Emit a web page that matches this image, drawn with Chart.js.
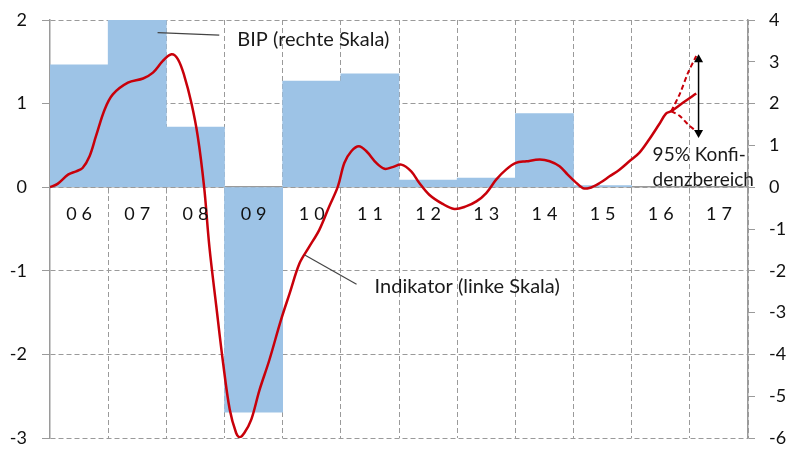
<!DOCTYPE html>
<html><head><meta charset="utf-8">
<style>html,body{margin:0;padding:0;background:#fff}#wrap{width:790px;height:449px;position:relative}canvas{display:block}</style>
<script src="https://cdn.jsdelivr.net/npm/chart.js@4/dist/chart.umd.min.js"></script>
</head><body><div id="wrap"><canvas id="c" width="790" height="449"></canvas></div>
<script>
// ---- data ----
const yearLabels = ['06','07','08','09','10','11','12','13','14','15','16','17'];
const firstYear = 2006;
const gdpYears = [2006,2007,2008,2009,2010,2011,2012,2013,2014,2015];
const gdpGrowth = [2.93,4.0,1.44,-5.38,2.54,2.71,0.17,0.22,1.76,0.04];
const indicatorX = [2006.00,2006.13,2006.31,2006.45,2006.56,2006.68,2006.79,2006.94,2007.08,2007.34,2007.60,2007.77,2007.94,2008.09,2008.20,2008.31,2008.43,2008.54,2008.65,2008.74,2008.86,2008.97,2009.09,2009.20,2009.26,2009.34,2009.46,2009.60,2009.77,2009.97,2010.12,2010.29,2010.45,2010.63,2010.80,2010.95,2011.06,2011.18,2011.31,2011.44,2011.61,2011.75,2011.89,2012.04,2012.21,2012.35,2012.52,2012.75,2012.95,2013.15,2013.33,2013.50,2013.67,2013.84,2014.01,2014.19,2014.42,2014.59,2014.76,2014.90,2015.02,2015.16,2015.27,2015.45,2015.62,2015.79,2015.96,2016.13,2016.30,2016.47,2016.59,2016.68,2016.88,2017.11];
const indicatorY = [0.00,0.04,0.15,0.19,0.23,0.37,0.61,0.93,1.11,1.25,1.30,1.37,1.51,1.59,1.53,1.33,1.01,0.61,0.00,-0.71,-1.43,-2.07,-2.66,-2.94,-2.99,-2.94,-2.78,-2.43,-2.07,-1.59,-1.27,-0.91,-0.72,-0.51,-0.23,0.01,0.29,0.43,0.49,0.43,0.29,0.22,0.24,0.27,0.19,0.05,-0.09,-0.20,-0.26,-0.23,-0.17,-0.07,0.09,0.21,0.29,0.31,0.33,0.31,0.25,0.15,0.07,-0.01,-0.01,0.05,0.13,0.21,0.31,0.41,0.57,0.75,0.88,0.91,1.01,1.12];
const bandX = [2016.68,2016.83,2016.97,2017.11];
const bandUpper = [0.91,1.12,1.37,1.57];
const bandLower = [0.91,0.85,0.75,0.67];
const leftRange = [-3, 2];
const rightRange = [-6, 4];
const txtGdp = 'BIP (rechte Skala)';
const txtInd = 'Indikator (linke Skala)';
const txtBand = ['95% Konfi-', 'denzbereich'];

const pts = (xs, ys) => xs.map((v, i) => ({x: v, y: ys[i]}));
const RED = '#C8000A';
const GRID = '#9a9a9a';
const FONT = 'Lato';

const annot = {
  id: 'annot',
  beforeDraw(chart) {
    const xs = chart.scales.x;
    if (!xs._lsWrapped) {
      const orig = xs.drawLabels.bind(xs);
      xs.drawLabels = function (area) {
        const c = this.ctx; c.save(); c.letterSpacing = '5px'; c.translate(2.5, 0); orig(area); c.restore();
      };
      xs._lsWrapped = true;
    }
  },
  afterDatasetsDraw(chart) {
    const {ctx, scales: {x, y}} = chart;
    const px = v => x.getPixelForValue(v), py = v => y.getPixelForValue(v);
    ctx.save();
    ctx.strokeStyle = '#444'; ctx.lineWidth = 1.2;
    const seg = (a, b, c, d) => { ctx.beginPath(); ctx.moveTo(px(a), py(b)); ctx.lineTo(px(c), py(d)); ctx.stroke(); };
    seg(2007.85, 1.85, 2008.91, 1.82);
    seg(2010.38, -0.81, 2011.27, -1.16);
    ctx.fillStyle = '#1a1a1a'; ctx.font = '20px ' + FONT; ctx.textBaseline = 'middle'; ctx.textAlign = 'left';
    ctx.fillText(txtGdp, px(2009.22), py(1.77));
    ctx.fillText(txtInd, px(2011.58), py(-1.19));
    ctx.font = '19px ' + FONT;
    ctx.fillText(txtBand[0], px(2016.36), py(0.39));
    ctx.fillText(txtBand[1], px(2016.36), py(0.09));
    // arrow
    const ax = px(2017.15), ay1 = py(1.59), ay2 = py(0.59);
    ctx.strokeStyle = '#000'; ctx.fillStyle = '#000'; ctx.lineWidth = 1.5;
    ctx.beginPath(); ctx.moveTo(ax, ay1 + 6); ctx.lineTo(ax, ay2 - 6); ctx.stroke();
    ctx.beginPath(); ctx.moveTo(ax, ay1); ctx.lineTo(ax - 4.5, ay1 + 8); ctx.lineTo(ax + 4.5, ay1 + 8); ctx.closePath(); ctx.fill();
    ctx.beginPath(); ctx.moveTo(ax, ay2); ctx.lineTo(ax - 4.5, ay2 - 8); ctx.lineTo(ax + 4.5, ay2 - 8); ctx.closePath(); ctx.fill();
    ctx.restore();
  }
};

new Chart(document.getElementById('c'), {
  type: 'bar',
  data: {
    datasets: [
      {type: 'line', data: pts(indicatorX, indicatorY), yAxisID: 'y', borderColor: RED, borderWidth: 2.5, pointRadius: 0, tension: 0.35, order: 0},
      {type: 'line', data: pts(bandX, bandUpper), yAxisID: 'y', borderColor: RED, borderWidth: 2, borderDash: [5, 3], pointRadius: 0, tension: 0.3, order: 0},
      {type: 'line', data: pts(bandX, bandLower), yAxisID: 'y', borderColor: RED, borderWidth: 2, borderDash: [5, 3], pointRadius: 0, tension: 0.3, order: 0},
      {type: 'bar', data: gdpYears.map((yr, i) => ({x: yr + 0.5, y: gdpGrowth[i]})), yAxisID: 'y1', backgroundColor: '#9DC3E6', borderWidth: 0, barPercentage: 1, categoryPercentage: 1, order: 1}
    ]
  },
  options: {
    responsive: false, animation: false, maintainAspectRatio: false,
    layout: {padding: {top: 20, bottom: 11, left: 0, right: 0}},
    plugins: {legend: {display: false}, tooltip: {enabled: false}},
    scales: {
      x: {
        type: 'linear', min: firstYear, max: firstYear + yearLabels.length, offset: false,
        position: {y: 0},
        afterBuildTicks: s => { s.ticks = yearLabels.map((l, i) => ({value: firstYear + 0.5 + i})); },
        ticks: {callback: (v, i) => yearLabels[i], autoSkip: false, maxRotation: 0, color: '#111', font: {family: FONT, size: 18}, padding: 10, z: 1},
        grid: {offset: true, color: GRID, lineWidth: 1, tickLength: 6, tickColor: GRID, tickBorderDash: []},
        border: {display: true, color: GRID, width: 1.5, dash: [5, 3]},
        afterFit: s => { s.paddingTop = 0; s.paddingBottom = 0; }
      },
      y: {
        position: 'left', min: leftRange[0], max: leftRange[1],
        ticks: {stepSize: 1, color: '#111', font: {family: FONT, size: 18}, padding: 15},
        grid: {color: GRID, lineWidth: 1, tickLength: 8, tickColor: GRID, tickBorderDash: []},
        border: {display: true, color: GRID, width: 1.5, dash: [5, 3]},
        afterFit: s => { s.width = 50; s.paddingTop = 0; s.paddingBottom = 0; }
      },
      y1: {
        position: 'right', min: rightRange[0], max: rightRange[1],
        ticks: {stepSize: 1, color: '#111', font: {family: FONT, size: 18}, padding: 14},
        grid: {drawOnChartArea: false, color: GRID, tickLength: 7, tickColor: GRID},
        border: {display: true, color: GRID, width: 1.5},
        afterFit: s => { s.width = 42; s.paddingTop = 0; s.paddingBottom = 0; }
      }
    }
  },
  plugins: [annot]
});
</script>
</body></html>
